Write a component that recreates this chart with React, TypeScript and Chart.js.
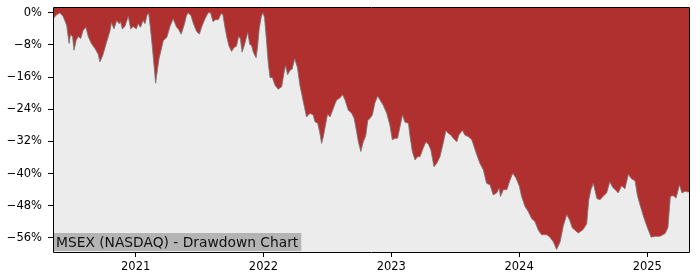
import React, { useEffect, useRef } from 'react';
import { Chart, registerables } from 'chart.js';

Chart.register(...registerables);

const TITLE = 'MSEX (NASDAQ) - Drawdown Chart';

const dates: string[] = [
  '2020-05-10','2020-05-20','2020-05-30','2020-06-08','2020-06-18','2020-06-25','2020-06-29','2020-07-05','2020-07-09','2020-07-15','2020-07-21','2020-07-28','2020-08-04','2020-08-12','2020-08-19','2020-08-28','2020-09-07','2020-09-16','2020-09-21','2020-09-29','2020-10-10','2020-10-20','2020-10-24','2020-10-31','2020-11-08','2020-11-15','2020-11-19','2020-11-24','2020-12-01','2020-12-11','2020-12-18','2020-12-25',
  '2021-01-03','2021-01-08','2021-01-15','2021-01-22','2021-01-28','2021-02-02','2021-02-07','2021-02-12','2021-02-18','2021-02-23','2021-02-27','2021-03-04','2021-03-09','2021-03-16','2021-03-21','2021-03-31','2021-04-09','2021-04-18','2021-04-28','2021-05-03','2021-05-11','2021-05-20','2021-05-26','2021-05-31','2021-06-08','2021-06-15','2021-06-24','2021-07-02','2021-07-09','2021-07-18','2021-07-27','2021-08-03','2021-08-10','2021-08-17','2021-08-25','2021-09-02','2021-09-07','2021-09-13','2021-09-18','2021-09-24','2021-10-02','2021-10-09','2021-10-16','2021-10-22','2021-10-27','2021-11-01','2021-11-08','2021-11-17','2021-11-23','2021-11-28','2021-12-03','2021-12-11','2021-12-15','2021-12-20','2021-12-26','2021-12-31',
  '2022-01-04','2022-01-10','2022-01-15','2022-01-20','2022-01-26','2022-02-03','2022-02-12','2022-02-22','2022-03-01','2022-03-05','2022-03-11','2022-03-18','2022-03-24','2022-03-31','2022-04-08','2022-04-15','2022-04-25','2022-05-04','2022-05-14','2022-05-23','2022-05-28','2022-06-05','2022-06-11','2022-06-16','2022-06-21','2022-06-28','2022-07-03','2022-07-10','2022-07-16','2022-07-24','2022-07-29','2022-08-07','2022-08-15','2022-08-22','2022-08-31','2022-09-10','2022-09-17','2022-09-24','2022-09-29','2022-10-06','2022-10-13','2022-10-20','2022-10-26','2022-11-01','2022-11-08','2022-11-15','2022-11-23','2022-11-30','2022-12-09','2022-12-19','2022-12-28',
  '2023-01-04','2023-01-12','2023-01-19','2023-01-26','2023-02-02','2023-02-09','2023-02-19','2023-02-23','2023-03-02','2023-03-10','2023-03-17','2023-03-24','2023-04-02','2023-04-10','2023-04-17','2023-04-24','2023-05-03','2023-05-11','2023-05-20','2023-05-29','2023-06-06','2023-06-13','2023-06-20','2023-06-27','2023-07-07','2023-07-13','2023-07-23','2023-07-30','2023-08-09','2023-08-19','2023-09-02','2023-09-11','2023-09-21','2023-09-30','2023-10-10','2023-10-19','2023-10-29','2023-11-05','2023-11-09','2023-11-17','2023-11-27','2023-12-06','2023-12-14','2023-12-23',
  '2024-01-02','2024-01-08','2024-01-18','2024-01-27','2024-02-06','2024-02-15','2024-02-25','2024-03-05','2024-03-20','2024-03-29','2024-04-08','2024-04-17','2024-04-27','2024-05-06','2024-05-16','2024-05-24','2024-06-01','2024-06-09','2024-06-18','2024-07-02','2024-07-12','2024-07-18','2024-07-24','2024-07-31','2024-08-10','2024-08-19','2024-08-28','2024-09-07','2024-09-16','2024-09-24','2024-10-06','2024-10-10','2024-10-20','2024-10-29','2024-11-08','2024-11-17','2024-11-27','2024-12-04','2024-12-11','2024-12-21','2024-12-30',
  '2025-01-12','2025-01-23','2025-02-06','2025-02-21','2025-03-01','2025-03-08','2025-03-17','2025-03-24','2025-04-03','2025-04-10','2025-04-19','2025-04-28','2025-05-03',
];

const drawdown: number[] = [
  -1.5,-0.5,0,-0.9,-3.1,-7.6,-5.4,-6.0,-9.3,-6.9,-5.9,-6.4,-4.4,-3.6,-6.0,-7.7,-8.9,-10.3,-12.2,-10.6,-7.3,-4.4,-2.4,-4.0,-1.9,-2.7,-2.2,-4.0,-3.4,-0.9,-4.0,-3.4,
  -4.0,-2.7,-3.6,-1.9,-2.7,
  -0.7,0,-3.6,-8.8,-13.6,-17.5,
  -14.3,-11.3,-8.8,-6.9,-6.1,
  -3.4,-1.5,-3.6,
  -4.0,-5.3,-2.9,-0.7,0,
  -0.7,-2.7,-4.6,
  -5.3,-3.4,-1.5,0,
  0,-2.2,-1.7,-1.7,
  -0.2,-0.4,-3.6,-5.9,-8.1,
  -9.6,-8.6,-8.3,-5.9,-6.4,
  -9.8,-7.9,-4.9,-7.9,-8.1,
  -9.8,-11.2,-8.6,-3.9,-0.9,0,
  -1.2,-7.3,-12.8,-16.2,-16.0,
  -18.0,-19.0,-18.4,
  -14.8,-13.1,-15.4,-14.3,-14.0,-11.4,
  -13.6,-18.0,-22.2,
  -25.9,-25.0,-25.4,-27.1,
  -27.5,-29.9,-32.5,-30.8,-27.5,
  -25.2,-25.9,-24.6,-22.7,-21.7,
  -21.2,-20.4,-21.7,-24.2,
  -25.0,-26.3,-29.6,-32.1,
  -34.5,-32.1,-30.6,-26.7,
  -26.3,-25.4,-22.5,-20.7,-21.7,
  -23.0,-25.0,-27.9,
  -31.6,-31.2,-31.2,-28.3,
  -25.4,-27.2,-27.5,-30.4,
  -34.5,-36.6,-35.8,-35.8,
  -33.7,-32.1,-32.7,-34.1,
  -38.3,-37.4,-35.8,-32.5,
  -29.3,-30.0,-30.4,-31.2,
  -32.1,-30.4,-29.2,-30.4,
  -30.8,-31.6,
  -35.3,-37.4,-39.1,-42.4,
  -42.8,-45.3,-44.8,
  -43.6,-45.7,-44.0,-44.0,
  -41.6,-39.9,-41.1,
  -43.2,-45.7,-48.2,-49.4,
  -51.2,-51.9,-54.1,
  -55.2,-55.2,-55.8,
  -57.0,-58.9,-57.0,
  -53.1,-50.2,-51.5,
  -53.5,-54.1,-54.8,
  -53.9,-52.5,-46.5,-44.0,-42.4,
  -46.2,-46.5,-45.6,
  -44.8,-42.0,-43.4,
  -44.4,-44.8,-43.0,-43.8,
  -40.2,-41.3,-41.8,
  -45.5,-47.7,-50.6,-52.9,
  -55.8,-55.6,-55.6,-54.9,-53.4,-45.6,-45.5,-46.1,-42.8,-44.8,-44.4,-44.6,-44.5,
];

const yearTicks: number[] = [2021, 2022, 2023, 2024, 2025];
const pctTicks: number[] = [0, -8, -16, -24, -32, -40, -48, -56];
const Y_MIN = -59.5;
const Y_MAX = 1.2;

const FILL_RED = '#b03030';
const BG_GREY = '#ececec';
const LABEL_BG = '#b4b4b4';
const FONT = 'DejaVu Sans';

export default function App() {
  const ref = useRef<HTMLCanvasElement | null>(null);

  useEffect(() => {
    if (!ref.current) return;
    const points = dates.map((d, i) => ({ x: Date.parse(d), y: drawdown[i] }));

    const decor = {
      id: 'decor',
      beforeDatasetsDraw(chart: any) {
        const { ctx, chartArea: a } = chart;
        ctx.save();
        ctx.fillStyle = BG_GREY;
        ctx.fillRect(a.left, a.top, a.right - a.left, a.bottom - a.top);
        ctx.restore();
      },
      afterDatasetsDraw(chart: any) {
        const { ctx, chartArea: a } = chart;
        ctx.save();
        ctx.font = `13.8px "${FONT}"`;
        const w = ctx.measureText(TITLE).width + 6;
        ctx.fillStyle = LABEL_BG;
        ctx.fillRect(a.left, a.bottom - 19, w, 18);
        ctx.fillStyle = '#111';
        ctx.textBaseline = 'alphabetic';
        ctx.textAlign = 'left';
        ctx.fillText(TITLE, a.left + 3, a.bottom - 5.5);
        ctx.restore();
      },
      afterDraw(chart: any) {
        const { ctx, chartArea: a } = chart;
        ctx.save();
        ctx.strokeStyle = '#000';
        ctx.lineWidth = 1;
        const l = Math.round(a.left) + 0.5;
        const r = Math.round(a.right) - 0.5;
        const t = Math.round(a.top) - 0.5;
        const b = Math.round(a.bottom) + 0.5;
        ctx.beginPath();
        ctx.moveTo(l, t);
        ctx.lineTo(r, t);
        ctx.lineTo(r, b);
        ctx.lineTo(l, b);
        ctx.closePath();
        ctx.stroke();
        ctx.restore();
      },
    };

    const tickFont = { family: FONT, size: 11.5 };

    const chart = new Chart(ref.current, {
      type: 'line',
      data: {
        datasets: [
          {
            data: points,
            fill: 'end',
            backgroundColor: FILL_RED,
            borderColor: 'rgba(120,120,120,0.85)',
            borderWidth: 1,
            pointRadius: 0,
            tension: 0,
          },
        ],
      },
      options: {
        animation: false,
        responsive: false,
        devicePixelRatio: 1,
        layout: { padding: { top: 8, right: 10, left: 0, bottom: 0 } },
        plugins: { legend: { display: false }, tooltip: { enabled: false } },
        scales: {
          x: {
            type: 'linear',
            min: points[0].x,
            max: points[points.length - 1].x,
            afterBuildTicks: (s: any) => {
              s.ticks = yearTicks.map((y) => ({ value: Date.UTC(y, 0, 1) }));
            },
            afterFit: (s: any) => {
              s.height = 28;
              s.paddingLeft = 0;
              s.paddingRight = 0;
            },
            ticks: {
              callback: (v: any) => String(new Date(Number(v)).getUTCFullYear()),
              color: '#000',
              font: tickFont,
              padding: 3,
              maxRotation: 0,
              autoSkip: false,
            },
            grid: { drawOnChartArea: false, drawTicks: true, tickLength: 5, color: '#000' },
            border: { display: false },
          },
          y: {
            min: Y_MIN,
            max: Y_MAX,
            afterBuildTicks: (s: any) => {
              s.ticks = pctTicks.map((v) => ({ value: v }));
            },
            afterFit: (s: any) => {
              s.width = 53;
              s.paddingTop = 0;
              s.paddingBottom = 0;
            },
            ticks: {
              callback: (v: any) => (Number(v) === 0 ? '0%' : '\u2212' + Math.abs(Number(v)) + '%'),
              color: '#000',
              font: tickFont,
              padding: 6,
              autoSkip: false,
            },
            grid: { drawOnChartArea: false, drawTicks: true, tickLength: 5, color: '#000' },
            border: { display: false },
          },
        },
      },
      plugins: [decor],
    } as any);

    return () => chart.destroy();
  }, []);

  return (
    <div style={{ position: 'fixed', left: 0, top: 0, width: 700, height: 280, background: '#fff' }}>
      <canvas ref={ref} width={700} height={280} style={{ display: 'block' }} />
    </div>
  );
}
